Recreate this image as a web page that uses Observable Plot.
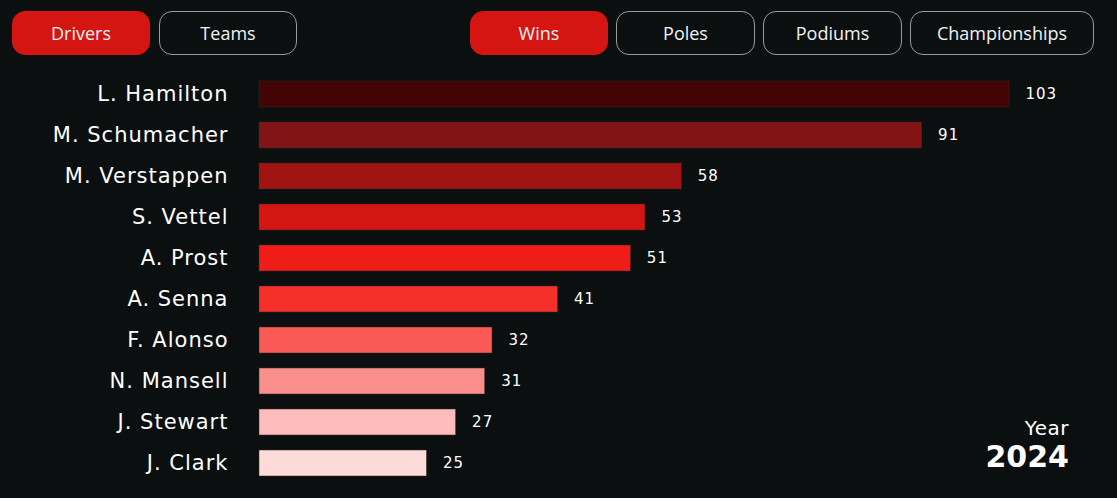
<!DOCTYPE html>
<html>
<head>
<meta charset="utf-8">
<script src="https://cdn.jsdelivr.net/npm/d3@7"></script>
<script src="https://cdn.jsdelivr.net/npm/@observablehq/plot@0.6"></script>
<style>
  html, body { margin: 0; padding: 0; background: #0b0f10; }
  #wrap { position: relative; width: 1117px; height: 498px; overflow: hidden; background: #0b0f10; }
  #header { position: relative; height: 65px; }
  .btn { position: absolute; top: 11px; height: 44px; box-sizing: border-box; border-radius: 13px;
         border: 1px solid #9a9a9a; color: #f2f2f2; font-family: "Open Sans", sans-serif; font-size: 18px;
         display: flex; align-items: center; justify-content: center; background: transparent; }
  .btn.on { background: #d51512; border-color: #d51512; }
  #year { position: absolute; right: 48px; top: 416px; text-align: right; color: #ffffff; font-family: "DejaVu Sans", sans-serif; }
  #year .lbl { font-size: 20px; line-height: 24px; letter-spacing: 0.5px; }
  #year .val { font-size: 30px; font-weight: bold; line-height: 34px; }
  #chart svg g[aria-label="y-axis tick label"] text { letter-spacing: 1px; }
  #chart svg g[aria-label="text"] text { letter-spacing: 1px; }
</style>
</head>
<body>
<div id="wrap">
  <div id="header"></div>
  <div id="chart"></div>
  <div id="year"></div>
</div>
<script>
const groupButtons = ["Drivers", "Teams"];
const metricButtons = ["Wins", "Poles", "Podiums", "Championships"];
const activeGroup = "Drivers";
const activeMetric = "Wins";
const yearLabel = "Year";
const year = "2024";

const drivers = ["L. Hamilton", "M. Schumacher", "M. Verstappen", "S. Vettel", "A. Prost", "A. Senna", "F. Alonso", "N. Mansell", "J. Stewart", "J. Clark"];
const wins = [103, 91, 58, 53, 51, 41, 32, 31, 27, 25];
// bar lengths as drawn (animated frame: Clark's bar still growing)
const barWins = [103, 91, 58, 53, 51, 41, 32, 31, 27, 23];
const colors = ["#430405", "#821416", "#a01414", "#d41612", "#f01c18", "#f5302a", "#f95a55", "#f98e8a", "#fbbcbb", "#fcdbd8"];

// buttons
const header = document.getElementById("header");
const btnPos = {
  Drivers: [12, 138], Teams: [159, 138],
  Wins: [470, 138], Poles: [616, 139], Podiums: [763, 139], Championships: [910, 184]
};
[...groupButtons, ...metricButtons].forEach(name => {
  const b = document.createElement("div");
  b.className = "btn" + (name === activeGroup || name === activeMetric ? " on" : "");
  b.style.left = btnPos[name][0] + "px";
  b.style.width = btnPos[name][1] + "px";
  b.textContent = name;
  header.appendChild(b);
});

document.getElementById("year").innerHTML = `<div class="lbl">${yearLabel}</div><div class="val">${year}</div>`;

const data = drivers.map((d, i) => ({driver: d, wins: wins[i], bar: barWins[i], color: colors[i]}));

const chart = Plot.plot({
  width: 1117,
  height: 433,
  marginLeft: 259,
  marginRight: 108,
  marginTop: 1,
  marginBottom: 7,
  style: {background: "transparent", color: "#ffffff", fontFamily: "DejaVu Sans, sans-serif"},
  x: {domain: [0, 103], axis: null},
  y: {domain: drivers, padding: 0.366, round: false, label: null},
  marks: [
    Plot.barX(data, {x: "bar", y: "driver", fill: "color", stroke: "#3a2a2a", strokeWidth: 0.5}),
    Plot.text(data, {x: "bar", y: "driver", text: d => String(d.wins), textAnchor: "start", dx: 16, fill: "#ffffff", fontSize: 15}),
    Plot.axisY({tickSize: 0, tickPadding: 31, fontSize: 21, color: "#ffffff", label: null})
  ]
});
document.getElementById("chart").appendChild(chart);
</script>
</body>
</html>
